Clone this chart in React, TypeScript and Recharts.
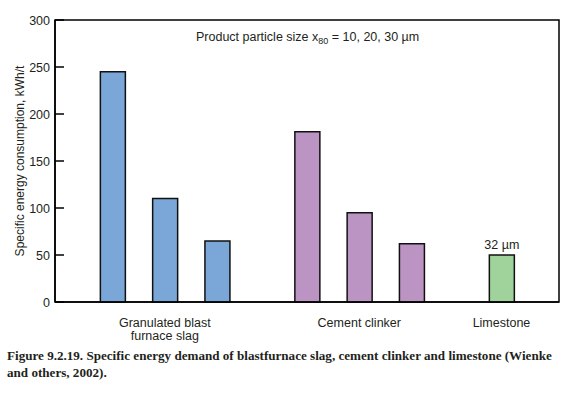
import { Bar, BarChart, Cell, LabelList, ReferenceArea, XAxis, YAxis } from 'recharts';

// values (kWh/t)
const GROUP_LABELS = [['Granulated blast', 'furnace slag'], ['Cement clinker'], ['Limestone']];
const SLAG_KWH = [245, 110, 65];
const CLINKER_KWH = [181, 95, 62];
const LIMESTONE_KWH = [50];
const SIZES_UM = [10, 20, 30];
const LIMESTONE_SIZE_UM = [32];
const Y_TICKS = [0, 50, 100, 150, 200, 250, 300];
const GROUP_FILLS = ['#7ba7d8', '#bc94c4', '#a0d39c'];

const INK = '#231f20';
const SANS = '"Liberation Sans", Arial, sans-serif';

// slot layout: bars one unit apart, wider gap between material groups
const FIRST_SLOT = 1.1;
const GROUP_GAP = 1.72;
const EDGE = 1.1;

type Row = { pos: number; value: number; group: number; size: number };

const rows: Row[] = [];
const centers: number[] = [];
{
  let pos = FIRST_SLOT;
  [SLAG_KWH, CLINKER_KWH, LIMESTONE_KWH].forEach((vals, g) => {
    const start = pos;
    vals.forEach((v, i) => {
      rows.push({ pos, value: v, group: g, size: g === 2 ? LIMESTONE_SIZE_UM[i] : SIZES_UM[i] });
      if (i < vals.length - 1) pos += 1;
    });
    centers.push((start + pos) / 2);
    pos += GROUP_GAP;
  });
}
const X_MAX = rows[rows.length - 1].pos + EDGE;

const YTick = (props: any) => {
  const { x, y, payload } = props;
  return (
    <g>
      <line x1={x + 5} x2={x + 14} y1={y} y2={y} stroke="#000" strokeWidth={1.5} />
      <text x={x} y={y} dy={4.5} textAnchor="end" fontSize={12.5} fontFamily={SANS} fill={INK}>
        {payload.value}
      </text>
    </g>
  );
};

const XTick = (props: any) => {
  const { x, y, index } = props;
  const lines = GROUP_LABELS[index] ?? [];
  return (
    <text x={x} y={y} textAnchor="middle" fontSize={12.5} fontFamily={SANS} fill={INK}>
      {lines.map((l, i) => (
        <tspan key={i} x={x} dy={i === 0 ? 24.5 : 13}>
          {l}
        </tspan>
      ))}
    </text>
  );
};

const SizeLabel = (props: any) => {
  const { x, y, width, index } = props;
  const r = rows[index];
  if (!r || r.group !== 2) return null;
  return (
    <text x={x + width / 2} y={y - 6} textAnchor="middle" fontSize={12.5} fontFamily={SANS} fill={INK}>
      {r.size} µm
    </text>
  );
};

export default function App() {
  return (
    <div style={{ position: 'absolute', left: 0, top: 0, width: 580, height: 396, background: '#fff' }}>
      <BarChart width={580} height={396} data={rows} margin={{ top: 20, right: 21, bottom: 54, left: 0 }}>
        <ReferenceArea x1={0} x2={X_MAX} y1={0} y2={300} fill="none" stroke="#000" strokeWidth={1.5} />
        <XAxis
          type="number"
          dataKey="pos"
          domain={[0, X_MAX]}
          ticks={centers}
          interval={0}
          tickLine={false}
          tickSize={0}
          tickMargin={0}
          axisLine={{ stroke: '#000', strokeWidth: 1.5 }}
          tick={<XTick />}
          height={40}
          allowDataOverflow
        />
        <YAxis
          type="number"
          domain={[0, 300]}
          ticks={Y_TICKS}
          interval={0}
          width={55}
          tickLine={false}
          tickSize={0}
          tickMargin={5}
          axisLine={{ stroke: '#000', strokeWidth: 1.5 }}
          tick={<YTick />}
          label={{
            content: () => (
              <text
                x={20}
                y={161}
                transform="rotate(-90 20 161)"
                textAnchor="middle"
                dy={4}
                fontSize={12}
                fontFamily={SANS}
                fill={INK}
              >
                Specific energy consumption, kWh/t
              </text>
            ),
          }}
        />
        <Bar dataKey="value" barSize={25} stroke="#111" strokeWidth={1.5} isAnimationActive={false}>
          {rows.map((r, i) => (
            <Cell key={i} fill={GROUP_FILLS[r.group]} />
          ))}
          <LabelList dataKey="size" content={<SizeLabel />} />
        </Bar>
      </BarChart>
      <div
        style={{
          position: 'absolute',
          left: 196,
          top: 30,
          fontFamily: SANS,
          fontSize: 12.5,
          lineHeight: '14px',
          color: INK,
          whiteSpace: 'nowrap',
        }}
      >
        Product particle size x<sub style={{ fontSize: 9, verticalAlign: -3 }}>80</sub> = 10, 20, 30 µm
      </div>
      <div
        style={{
          position: 'absolute',
          left: 7,
          top: 347,
          fontFamily: '"Liberation Serif", "Times New Roman", serif',
          fontWeight: 'bold',
          fontSize: 13.1,
          lineHeight: '17px',
          color: INK,
          whiteSpace: 'nowrap',
        }}
      >
        Figure 9.2.19. Specific energy demand of blastfurnace slag, cement clinker and limestone (Wienke
        <br />
        and others, 2002).
      </div>
    </div>
  );
}
